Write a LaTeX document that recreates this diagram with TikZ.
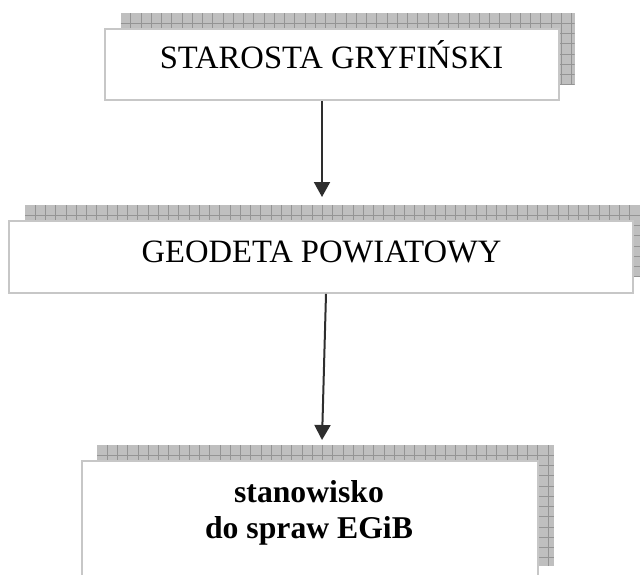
\documentclass[tikz,border=0pt]{standalone}
\usepackage{fontspec}
\setmainfont{Liberation Serif}
\usetikzlibrary{arrows.meta}
\begin{document}
\begin{tikzpicture}[x=1pt,y=-1pt,
  box/.style={rectangle, inner sep=0pt, draw=black!22, line width=1.8pt, fill=white},
  gridline/.style={draw=black!42, line width=0.8pt},
  shadowgrid/.style={rectangle, inner sep=0pt, fill=black!25,
    path picture={
      \foreach \i in {1,...,64} {
        \draw[gridline] ([xshift=\i*10.25pt]path picture bounding box.north west)
          -- ([xshift=\i*10.25pt]path picture bounding box.south west);
      }
      \foreach \j in {1,...,12} {
        \draw[gridline] ([yshift=-\j*10.25pt]path picture bounding box.north west)
          -- ([yshift=-\j*10.25pt]path picture bounding box.north east);
      }
    }},
  label/.style={anchor=base, inner sep=0pt, font=\fontsize{32.6}{36}\selectfont},
  boldlabel/.style={anchor=base, inner sep=0pt, font=\fontsize{31.7}{36}\selectfont\bfseries},
  arr/.style={draw=black!82, line width=2pt, -{Triangle[width=16pt,length=15pt]}}
]
\clip (0,0) rectangle (640,574);

% raised grid shadows behind the boxes
\node[shadowgrid, minimum width=454pt, minimum height=72pt] (s1) at (347.5,49) {};
\node[shadowgrid, minimum width=624pt, minimum height=72pt] (s2) at (337,241) {};
\node[shadowgrid, minimum width=457pt, minimum height=121pt] (s3) at (325.5,505.5) {};

% the boxes
\node[box, minimum width=454pt, minimum height=71pt] (b1) at (332,64.5) {};
\node[box, minimum width=624pt, minimum height=72pt] (b2) at (321,257) {};
\node[box, minimum width=456pt, minimum height=140pt] (b3) at (310,531) {};

% texts
\node[label] (t1) at (331.5,68) {STAROSTA GRYFIŃSKI};
\node[label] (t2) at (321.5,262) {GEODETA POWIATOWY};
\node[boldlabel] (t3) at (309,502) {stanowisko};
\node[boldlabel] (t4) at (309,538) {do spraw EGiB};

% connectors
\coordinate (a1) at (322,197);
\coordinate (a2) at (322,440);
\draw[arr] ([xshift=-10pt]b1.south) -- (a1);
\draw[arr] ([xshift=5pt]b2.south) -- (a2);
\end{tikzpicture}
\end{document}
